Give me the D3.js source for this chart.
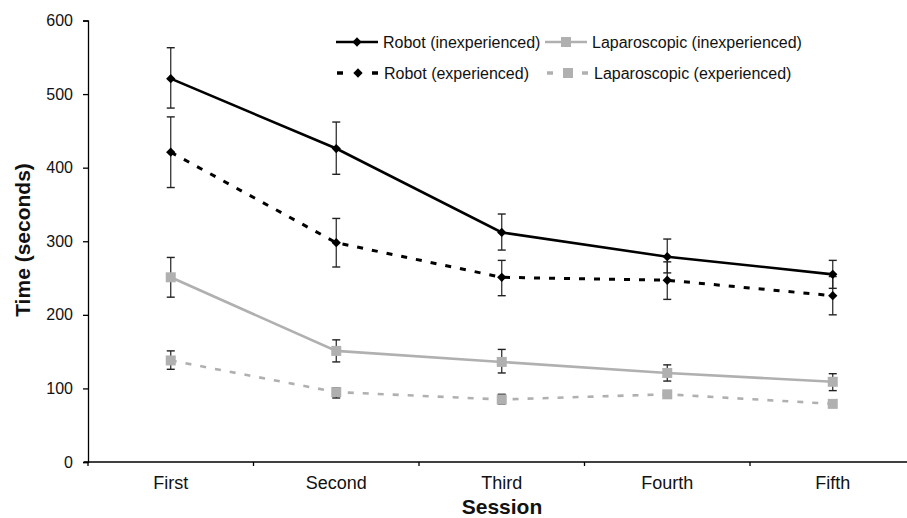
<!DOCTYPE html>
<html lang="en">
<head>
    <meta charset="UTF-8">
    <title>Session times</title>
    <script src="https://d3js.org/d3.v7.min.js"></script>
    <style>
        body { margin: 0; background: #fff; }
        svg { display: block; font-family: "Liberation Sans", Arial, sans-serif; }
        .ejeY .tick text { font-size: 16px; fill: #111; }
        .ejeX .tick text { font-size: 18px; fill: #111; }
        .leyenda { font-size: 16px; fill: #111; }
        .titulo { font-size: 21px; font-weight: bold; fill: #111; }
    </style>
</head>
<body>
<svg width="907" height="518"></svg>

<script>
    const sessions = ["First", "Second", "Third", "Fourth", "Fifth"]
    const yTicks = [0, 100, 200, 300, 400, 500, 600]

    const robotInexp = [521, 426, 312, 279, 255]
    const robotInexpHi = [563, 462, 337, 303, 274]
    const robotInexpLo = [481, 391, 288, 257, 236]

    const robotExp = [421, 298, 251, 247, 226]
    const robotExpHi = [469, 331, 274, 272, 252]
    const robotExpLo = [373, 265, 226, 221, 200]

    const lapInexp = [251, 151, 136, 121, 109]
    const lapInexpHi = [278, 166, 153, 132, 120]
    const lapInexpLo = [224, 136, 121, 110, 97]

    const lapExp = [138, 95, 85, 92, 79]
    const lapExpHi = [151, 101, 92, 96, 83]
    const lapExpLo = [126, 87, 79, 88, 75]

    const seriesNames = ["Robot (inexperienced)", "Laparoscopic (inexperienced)",
        "Robot (experienced)", "Laparoscopic (experienced)"]

    const series = [
        {name: seriesNames[0], v: robotInexp, hi: robotInexpHi, lo: robotInexpLo, color: "#000", dash: null, w: 2.6, shape: "diamond"},
        {name: seriesNames[1], v: lapInexp, hi: lapInexpHi, lo: lapInexpLo, color: "#b0b0b0", dash: null, w: 2.6, shape: "square"},
        {name: seriesNames[2], v: robotExp, hi: robotExpHi, lo: robotExpLo, color: "#000", dash: "6,9", w: 3, shape: "diamond"},
        {name: seriesNames[3], v: lapExp, hi: lapExpHi, lo: lapExpLo, color: "#b0b0b0", dash: "6,9", w: 2.6, shape: "square"}
    ]

    const svg = d3.select("svg")

    const x = d3.scaleBand().domain(sessions).range([88, 915.5])
    const y = d3.scaleLinear().domain([0, 600]).range([462, 20.5])
    const cx = d => x(d) + x.bandwidth() / 2

    // ejes
    const gx = svg.append("g").attr("class", "ejeX").attr("transform", "translate(0,462)")
    gx.call(d3.axisBottom(x).tickSize(0))
    gx.select(".domain").remove()
    gx.selectAll(".tick text").attr("dy", 0).attr("y", 27)
    gx.append("line").attr("x1", 84).attr("x2", 907).attr("stroke", "#000").attr("stroke-width", 1.3)
    gx.selectAll(".sep")
        .data(sessions)
        .enter()
        .append("line")
        .attr("x1", d => x(d)).attr("x2", d => x(d))
        .attr("y1", 0).attr("y2", 4)
        .attr("stroke", "#000").attr("stroke-width", 1.3)

    const gy = svg.append("g").attr("class", "ejeY").attr("transform", "translate(88,0)")
    gy.call(d3.axisLeft(y).tickValues(yTicks).tickSize(5).tickPadding(10))
    gy.select(".domain").attr("stroke-width", 1.3)
    gy.selectAll(".tick line").attr("stroke-width", 1.3)

    svg.append("text").attr("class", "titulo")
        .attr("transform", "translate(30,240) rotate(-90)")
        .attr("text-anchor", "middle")
        .text("Time (seconds)")

    svg.append("text").attr("class", "titulo")
        .attr("x", 502).attr("y", 514)
        .attr("text-anchor", "middle")
        .text("Session")

    // barras de error
    series.forEach(s => {
        const g = svg.append("g")
        sessions.forEach((d, i) => {
            g.append("line")
                .attr("x1", cx(d)).attr("x2", cx(d))
                .attr("y1", y(s.hi[i])).attr("y2", y(s.lo[i]))
                .attr("stroke", "#222").attr("stroke-width", 1.2)
            ;[s.hi[i], s.lo[i]].forEach(val => {
                g.append("line")
                    .attr("x1", cx(d) - 4).attr("x2", cx(d) + 4)
                    .attr("y1", y(val)).attr("y2", y(val))
                    .attr("stroke", "#222").attr("stroke-width", 1.4)
            })
        })
    })

    const line = d3.line().x((v, i) => cx(sessions[i])).y(v => y(v))

    function marker(g, shape, color, px, py) {
        if (shape === "diamond") {
            g.append("path")
                .attr("d", d3.symbol().type(d3.symbolDiamond2).size(55))
                .attr("transform", "translate(" + px + "," + py + ")")
                .attr("fill", color)
        } else {
            g.append("rect")
                .attr("x", px - 5).attr("y", py - 5)
                .attr("width", 10).attr("height", 10)
                .attr("fill", color)
        }
    }

    series.forEach(s => {
        svg.append("path")
            .datum(s.v)
            .attr("d", line)
            .attr("fill", "none")
            .attr("stroke", s.color)
            .attr("stroke-width", s.w)
            .attr("stroke-dasharray", s.dash)
        const g = svg.append("g")
        s.v.forEach((v, i) => marker(g, s.shape, s.color, cx(sessions[i]), y(v)))
    })

    // leyenda: fila 1 inexperienced, fila 2 experienced
    const leyenda = [
        {s: series[0], x: 336, y: 42},
        {s: series[1], x: 545, y: 42},
        {s: series[2], x: 337, y: 73},
        {s: series[3], x: 547, y: 73}
    ]
    leyenda.forEach(l => {
        const g = svg.append("g")
        if (l.s.dash) {
            // muestra punteada: un trazo a cada lado del marcador
            ;[[0, 6], [35, 41]].forEach(p => {
                g.append("line")
                    .attr("x1", l.x + p[0]).attr("x2", l.x + p[1])
                    .attr("y1", l.y).attr("y2", l.y)
                    .attr("stroke", l.s.color).attr("stroke-width", 3.5)
            })
        } else {
            g.append("line")
                .attr("x1", l.x).attr("x2", l.x + 42)
                .attr("y1", l.y).attr("y2", l.y)
                .attr("stroke", l.s.color).attr("stroke-width", 2.6)
        }
        marker(g, l.s.shape, l.s.color, l.x + 21, l.y)
        g.append("text").attr("class", "leyenda")
            .attr("x", l.x + 47).attr("y", l.y + 6)
            .text(l.s.name)
    })
</script>
</body>
</html>
